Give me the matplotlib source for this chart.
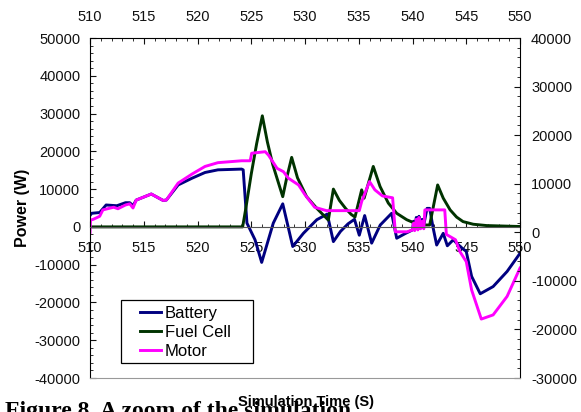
import matplotlib
matplotlib.use("Agg")
import matplotlib.pyplot as plt
from matplotlib.ticker import MultipleLocator
from matplotlib.patches import Rectangle

plt.rcParams['font.family'] = ['Liberation Sans', 'DejaVu Sans']
plt.rcParams['axes.unicode_minus'] = False

# Battery power (W)
battery_t = [510.0, 510.15, 510.9, 511.5, 512.5, 513.3, 513.7, 514.0, 514.3, 515.7,
             516.8, 517.1, 518.2, 519.5, 520.7, 521.9, 524.1, 524.25, 524.6, 525.35,
             525.97, 527.05, 527.93, 528.86, 529.85, 531.1, 532.07, 532.64, 533.3, 534.0,
             534.6, 535.05, 535.55, 536.2, 537.0, 538.06, 538.53, 539.3, 540.0, 540.1,
             540.2, 540.35, 540.5, 540.6, 540.75, 540.9, 541.05, 541.35, 541.6, 541.9,
             542.25, 542.86, 543.24, 543.8, 544.1, 544.6, 545.0, 545.5, 546.3, 547.5,
             548.8, 550.0]
battery_p = [3000, 3600, 3800, 5800, 5600, 6400, 6400, 5600, 7100, 8700,
             7000, 7100, 11100, 12900, 14400, 15100, 15300, 15100, 1000, -3400,
             -9400, 1000, 6100, -5200, -1700, 1900, 3400, -3900, -1200, 800,
             2000, -2200, 3000, -4300, 500, 3600, -3000, -1800, -800, 1500,
             -500, 2500, 0, 2800, 200, 2000, 500, 4900, 4900, 0,
             -4800, -1700, -5000, -3400, -4300, -5600, -6500, -13100, -17700, -15800,
             -11800, -7000]

# Fuel cell power (W)
fuel_t = [510.0, 524.2, 524.5, 525.0, 525.5, 526.03, 526.5, 527.0, 527.93, 528.3,
          528.76, 529.3, 530.15, 531.1, 532.17, 532.64, 533.2, 533.8, 534.3, 534.65,
          535.27, 535.5, 536.35, 536.98, 537.75, 538.53, 539.46, 540.2, 541.0, 541.6,
          542.34, 542.86, 543.5, 544.1, 544.7, 545.65, 546.9, 550.0]
fuel_p = [0, 0, 5000, 14000, 22000, 29400, 22500, 16500, 8000, 13000,
          18400, 13000, 8000, 4900, 1800, 10000, 7000, 4800, 3300, 2600,
          9800, 7600, 16000, 10700, 6300, 3600, 1900, 1000, 500, 500,
          11100, 7600, 4500, 2600, 1400, 700, 350, 100]

# Motor power (W)
motor_t = [510.0, 510.05, 510.3, 510.9, 511.2, 512.2, 512.6, 513.3, 513.7, 514.0,
           514.3, 515.7, 516.8, 517.1, 518.2, 519.5, 520.7, 521.9, 524.1, 524.9,
           525.04, 526.3, 526.6, 527.4, 528.0, 528.45, 529.4, 530.0, 530.9, 532.0,
           535.05, 535.27, 536.0, 536.5, 537.2, 538.15, 538.4, 539.5, 540.0, 540.1,
           540.2, 540.35, 540.5, 540.6, 540.75, 540.9, 541.05, 541.15, 543.0, 543.15,
           544.0, 544.4, 545.0, 545.5, 546.4, 547.5, 548.8, 550.0]
motor_p = [-1500, 1800, 2000, 2800, 4500, 5200, 4800, 5800, 6100, 5000,
           7100, 8700, 7000, 7100, 11600, 14000, 16000, 17000, 17500, 17500,
           19500, 19900, 19000, 15500, 14600, 12900, 11100, 8500, 5200, 4300,
           4300, 6700, 12000, 9800, 8200, 7700, -1300, -1300, -800, 1000,
           -1000, 2000, -800, 2500, -500, 1500, -500, 4500, 4500, -2000,
           -3400, -6500, -9200, -16700, -24400, -23300, -18400, -10900]

fig = plt.figure(figsize=(5.81, 4.12), dpi=100)
ax = fig.add_axes([90 / 581, 1 - 378 / 412, 430 / 581, 340 / 412])

ax.plot(battery_t, battery_p, color='#000080', lw=2.1, label='Battery')
ax.plot(fuel_t, fuel_p, color='#003300', lw=2.1, label='Fuel Cell')
ax.plot(motor_t, motor_p, color='#ff00ff', lw=2.1, label='Motor')

ax.set_xlim(510, 550)
ax.set_ylim(-40000, 50000)
ax.xaxis.set_major_locator(MultipleLocator(5))
ax.xaxis.set_minor_locator(MultipleLocator(1))
ax.yaxis.set_major_locator(MultipleLocator(10000))
ax.yaxis.set_minor_locator(MultipleLocator(2000))

# x axis crosses at y = 0, labels also on top
ax.spines['bottom'].set_position(('data', 0))
ax.spines['bottom'].set_color('#555555')
ax.spines['right'].set_visible(False)
ax.tick_params(axis='x', which='both', direction='in', top=True, labeltop=True,
               labelsize=10.5, pad=10, colors='#111111')
ax.tick_params(axis='x', which='major', length=4)
ax.tick_params(axis='x', which='minor', length=2.5)
ax.tick_params(axis='y', which='both', direction='in', labelsize=10.5, pad=7,
               colors='#111111')
ax.tick_params(axis='y', which='major', length=4)
ax.tick_params(axis='y', which='minor', length=2.5)
for lab in ax.get_xticklabels():
    lab.set_zorder(0)

ax2 = ax.twinx()
ax2.set_ylim(-30000, 40000)
ax2.yaxis.set_major_locator(MultipleLocator(10000))
ax2.yaxis.set_minor_locator(MultipleLocator(2000))
ax2.spines['left'].set_visible(False)
ax2.spines['top'].set_visible(False)
ax2.spines['bottom'].set_color('#999999')
ax2.tick_params(axis='y', which='both', direction='in', labelsize=10.5, pad=8,
                colors='#111111')
ax2.tick_params(axis='y', which='major', length=4)
ax2.tick_params(axis='y', which='minor', length=2.5)

ax.set_ylabel('Power (W)', fontsize=11.5, fontweight='bold', labelpad=3)
fig.text(306 / 581, 1 - 402 / 412, 'Simulation Time (S)', fontsize=10.5,
         fontweight='bold', ha='center', va='center')

# legend box drawn separately to get the wide side padding
ax.add_patch(Rectangle((30.7 / 430, 15.5 / 340), 132 / 430, 63 / 340,
                       transform=ax.transAxes, facecolor='white',
                       edgecolor='black', lw=0.9, zorder=4))
leg = ax.legend(loc='lower left', bbox_to_anchor=(50 / 430, 19 / 340), fontsize=12,
                frameon=False, handlelength=1.25, handletextpad=0.25,
                borderpad=0, labelspacing=0.25, borderaxespad=0)
leg.set_zorder(5)

fig.text(5 / 581, 1 - 401 / 412, 'Figure 8. A zoom of the simulation',
         fontsize=17, fontweight='bold', family='Liberation Serif',
         ha='left', va='top')

fig.savefig('out.png', dpi=100)
